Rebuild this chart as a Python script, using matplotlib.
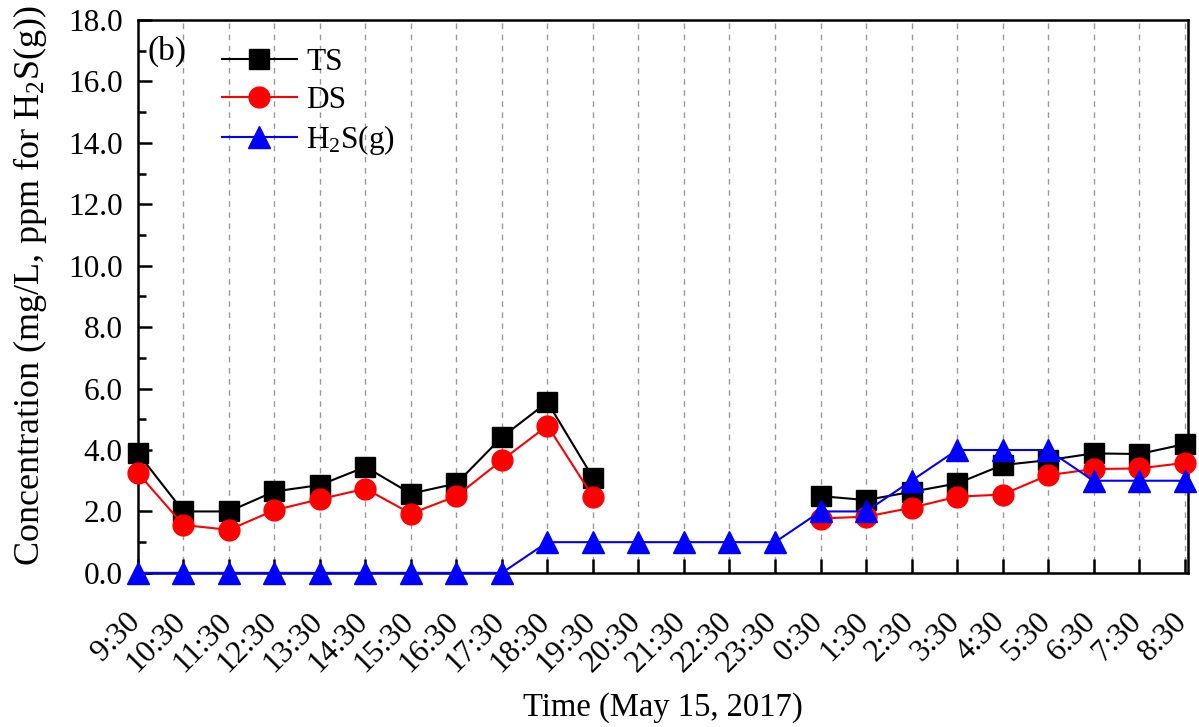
import numpy as np
import matplotlib
matplotlib.use("Agg")
import matplotlib.pyplot as plt
from matplotlib.ticker import MultipleLocator, FormatStrFormatter
from matplotlib.transforms import ScaledTranslation

plt.rcParams['font.family'] = ['Liberation Serif', 'DejaVu Serif']
plt.rcParams['mathtext.fontset'] = 'custom'
plt.rcParams['mathtext.rm'] = 'Liberation Serif'
plt.rcParams['mathtext.it'] = 'Liberation Serif:italic'

times = ["9:30", "10:30", "11:30", "12:30", "13:30", "14:30", "15:30", "16:30",
         "17:30", "18:30", "19:30", "20:30", "21:30", "22:30", "23:30", "0:30",
         "1:30", "2:30", "3:30", "4:30", "5:30", "6:30", "7:30", "8:30"]
nan = np.nan
ts = [3.9, 2.0, 2.0, 2.65, 2.86, 3.45, 2.58, 2.91, 4.42, 5.56, 3.1,
      nan, nan, nan, nan, 2.5, 2.37, 2.64, 2.91, 3.51, 3.67, 3.89, 3.87, 4.19]
ds = [3.25, 1.56, 1.4, 2.04, 2.4, 2.74, 1.93, 2.5, 3.67, 4.79, 2.48,
      nan, nan, nan, nan, 1.77, 1.83, 2.12, 2.48, 2.55, 3.18, 3.38, 3.4, 3.58]
h2s = [0, 0, 0, 0, 0, 0, 0, 0, 0, 1, 1, 1, 1, 1, 1, 2, 2, 3, 4, 4, 4, 3, 3, 3]

x = np.arange(len(times))

fig = plt.figure(figsize=(11.99, 7.27), dpi=100)
ax = fig.add_axes([0.115, 0.212, 0.876, 0.7605])

ax.plot(x, ts, color='black', lw=1.5, marker='s', ms=14, label='TS', zorder=3, clip_on=False)
ax.plot(x, ds, color='red', lw=1.5, marker='o', ms=15, label='DS', zorder=3, clip_on=False)
ax.plot(x, h2s, color='blue', lw=1.5, marker='^', ms=16, label='H$_2$S(g)', zorder=3, clip_on=False)

ax.set_xlim(0, 23.08)
ax.set_ylim(0, 18)
ax.yaxis.set_major_locator(MultipleLocator(2))
ax.yaxis.set_minor_locator(MultipleLocator(1))
ax.yaxis.set_major_formatter(FormatStrFormatter('%.1f'))
ax.set_xticks(x)
ax.set_xticklabels(times, rotation=45, ha='right', rotation_mode='default')
ax.tick_params(axis='both', which='major', direction='in', length=10, width=1.8, labelsize=22.5)
ax.tick_params(axis='y', which='minor', direction='in', length=6, width=1.8)
ax.tick_params(axis='x', which='major', pad=25)
ax.tick_params(axis='y', which='major', pad=11)
offset = ScaledTranslation(6 / 72, 0, fig.dpi_scale_trans)
for lab in ax.get_xticklabels():
    lab.set_transform(lab.get_transform() + offset)
for s in ax.spines.values():
    s.set_linewidth(1.8)

ax.grid(axis='x', color='#999999', linestyle=(0, (4, 4)), lw=1.0)
ax.set_axisbelow(True)

ax.set_xlabel('Time (May 15, 2017)', fontsize=23.5, labelpad=10)
ax.set_ylabel('Concentration (mg/L, ppm for H$_2$S(g))', fontsize=26, labelpad=14)
ax.yaxis.label.set_y(0.519)

ax.text(0.009, 0.971, '(b)', transform=ax.transAxes, fontsize=24, va='top', ha='left')
ax.legend(loc='upper left', bbox_to_anchor=(0.053, 1.0005), frameon=False, fontsize=22.5,
          handlelength=2.4, handletextpad=0.3, labelspacing=0.28)

fig.savefig('out.png', dpi=100)
